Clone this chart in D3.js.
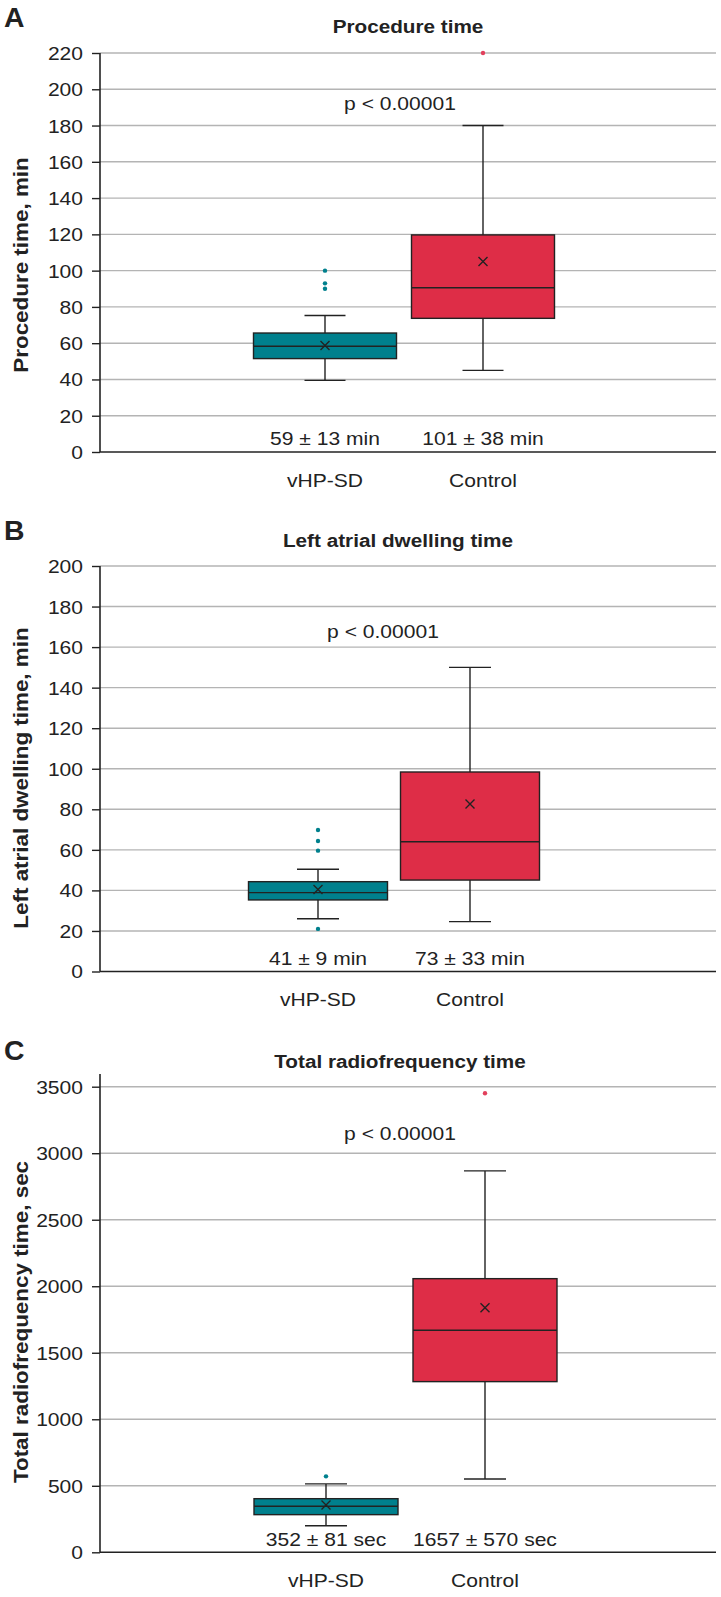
<!DOCTYPE html>
<html>
<head>
<meta charset="utf-8">
<script src="https://cdn.jsdelivr.net/npm/d3@7"></script>
<style>
  body { margin: 0; background: #fff; }
  svg { display: block; font-family: "Liberation Sans", Arial, sans-serif; }
</style>
</head>
<body>
<svg id="chart" width="721" height="1597"></svg>
<script>
const groups = ["vHP-SD", "Control"];

// A: procedure time, min
const procTicks = [0, 20, 40, 60, 80, 100, 120, 140, 160, 180, 200, 220];
const procMin = [39.5, 45];
const procQ1 = [51.5, 73.7];
const procMed = [58.3, 90.6];
const procQ3 = [65.6, 119.7];
const procMax = [75.3, 180];
const procMean = [58.7, 105];
const procOut = [[90, 93, 100], [220]];
const procStats = ["59 ± 13 min", "101 ± 38 min"];

// B: left atrial dwelling time, min
const laTicks = [0, 20, 40, 60, 80, 100, 120, 140, 160, 180, 200];
const laMin = [26, 24.6];
const laQ1 = [35.3, 45.1];
const laMed = [38.9, 64];
const laQ3 = [44.3, 98.4];
const laMax = [50.4, 150];
const laMean = [40.5, 82.6];
const laOut = [[21, 59.6, 64.4, 69.8], []];
const laStats = ["41 ± 9 min", "73 ± 33 min"];

// C: total radiofrequency time, sec
const rfTicks = [0, 500, 1000, 1500, 2000, 2500, 3000, 3500];
const rfMin = [200, 551];
const rfQ1 = [283, 1283];
const rfMed = [346, 1669];
const rfQ3 = [403, 2057];
const rfMax = [514, 2867];
const rfMean = [356, 1839];
const rfOut = [[571], [3451]];
const rfStats = ["352 ± 81 sec", "1657 ± 570 sec"];

const pText = "p < 0.00001";

const colors = ["#00808d", "#de2d47"];
const outColors = ["#00808d", "#e2405c"];
const ink = "#222";
const SX = 1.17;

const panels = [
  { letter: "A", title: "Procedure time", ylabel: "Procedure time, min",
    ticks: procTicks, min: procMin, q1: procQ1, med: procMed, q3: procQ3, max: procMax,
    mean: procMean, out: procOut, stats: procStats,
    yTop: 53, yZero: 452, axisTop: 53, xs: [325, 483], boxW: 143, capW: 41,
    letterY: 27, titleY: 33, titleX: 408, pX: 400, pY: 110, statY: 445, catY: 487, ylabY: 265 },
  { letter: "B", title: "Left atrial dwelling time", ylabel: "Left atrial dwelling time, min",
    ticks: laTicks, min: laMin, q1: laQ1, med: laMed, q3: laQ3, max: laMax,
    mean: laMean, out: laOut, stats: laStats,
    yTop: 566, yZero: 971.5, axisTop: 566, xs: [318, 470], boxW: 139, capW: 42,
    letterY: 540, titleY: 547, titleX: 398, pX: 383, pY: 638, statY: 965, catY: 1006, ylabY: 778 },
  { letter: "C", title: "Total radiofrequency time", ylabel: "Total radiofrequency time, sec",
    ticks: rfTicks, min: rfMin, q1: rfQ1, med: rfMed, q3: rfQ3, max: rfMax,
    mean: rfMean, out: rfOut, stats: rfStats,
    yTop: 1086.7, yZero: 1552.3, axisTop: 1074, xs: [326, 485], boxW: 144, capW: 42,
    letterY: 1060, titleY: 1068, titleX: 400, pX: 400, pY: 1140, statY: 1546, catY: 1587, ylabY: 1322 }
];

const svg = d3.select("#chart");
const xLeft = 100, xRight = 716;

function label(g, x, y, s, o = {}) {
  const t = g.append("g")
    .attr("transform", `translate(${x},${y}) rotate(${o.rotate || 0}) scale(${o.sx || SX},1)`);
  t.append("text")
    .attr("text-anchor", o.anchor || "middle")
    .attr("font-size", o.size || 18)
    .attr("font-weight", o.weight || "normal")
    .attr("fill", ink)
    .text(s);
}

panels.forEach(p => {
  const g = svg.append("g");
  const top = p.ticks[p.ticks.length - 1];
  const y = d3.scaleLinear().domain([0, top]).range([p.yZero, p.yTop]);
  const x = d3.scalePoint().domain(groups).range(p.xs);

  // gridlines
  g.append("g").selectAll("line").data(p.ticks.filter(t => t > 0)).join("line")
    .attr("x1", xLeft).attr("x2", xRight)
    .attr("y1", d => y(d)).attr("y2", d => y(d))
    .attr("stroke", "#b4b4b4").attr("stroke-width", 1.4);

  // y axis
  const ax = g.append("g").attr("transform", `translate(${xLeft},0)`)
    .call(d3.axisLeft(y).tickValues(p.ticks).tickFormat(d3.format("d"))
      .tickSize(8).tickSizeOuter(0).tickPadding(0));
  ax.select(".domain").remove();
  ax.selectAll(".tick line").attr("stroke", ink).attr("stroke-width", 1.4);
  ax.selectAll(".tick text")
    .attr("x", 0).attr("dy", "0.36em")
    .attr("transform", `translate(-17,0) scale(${SX},1)`)
    .attr("font-size", 18).attr("font-family", null).attr("fill", ink);
  g.append("line").attr("x1", xLeft).attr("x2", xLeft)
    .attr("y1", p.axisTop).attr("y2", p.yZero)
    .attr("stroke", ink).attr("stroke-width", 1.6);
  g.append("line").attr("x1", xLeft).attr("x2", xRight)
    .attr("y1", p.yZero).attr("y2", p.yZero)
    .attr("stroke", ink).attr("stroke-width", 1.6);

  // boxes
  groups.forEach((grp, i) => {
    const cx = x(grp);
    const bg = g.append("g");
    bg.append("line").attr("x1", cx).attr("x2", cx)
      .attr("y1", y(p.max[i])).attr("y2", y(p.min[i]))
      .attr("stroke", ink).attr("stroke-width", 1.4);
    [p.max[i], p.min[i]].forEach(v => {
      bg.append("line").attr("x1", cx - p.capW / 2).attr("x2", cx + p.capW / 2)
        .attr("y1", y(v)).attr("y2", y(v))
        .attr("stroke", ink).attr("stroke-width", 1.4);
    });
    bg.append("rect")
      .attr("x", cx - p.boxW / 2).attr("width", p.boxW)
      .attr("y", y(p.q3[i])).attr("height", y(p.q1[i]) - y(p.q3[i]))
      .attr("fill", colors[i]).attr("stroke", ink).attr("stroke-width", 1.4);
    bg.append("line").attr("x1", cx - p.boxW / 2).attr("x2", cx + p.boxW / 2)
      .attr("y1", y(p.med[i])).attr("y2", y(p.med[i]))
      .attr("stroke", ink).attr("stroke-width", 1.4);
    const my = y(p.mean[i]), s = 4.5;
    bg.append("path")
      .attr("d", `M${cx - s},${my - s}L${cx + s},${my + s}M${cx - s},${my + s}L${cx + s},${my - s}`)
      .attr("stroke", ink).attr("stroke-width", 1.4);
    bg.selectAll("circle").data(p.out[i]).join("circle")
      .attr("cx", cx).attr("cy", d => y(d)).attr("r", 2.2)
      .attr("fill", outColors[i]);

    label(g, cx, p.statY, p.stats[i]);
    label(g, cx, p.catY, grp);
  });

  // texts
  label(g, 4, p.letterY, p.letter, { anchor: "start", size: 27, weight: "bold", sx: 1.05 });
  label(g, p.titleX, p.titleY, p.title, { size: 18.5, weight: "bold", sx: 1.12 });
  label(g, p.pX, p.pY, pText);
  label(g, 28, p.ylabY, p.ylabel, { size: 19.5, weight: "bold", rotate: -90, sx: 1.15 });
});
</script>
</body>
</html>
